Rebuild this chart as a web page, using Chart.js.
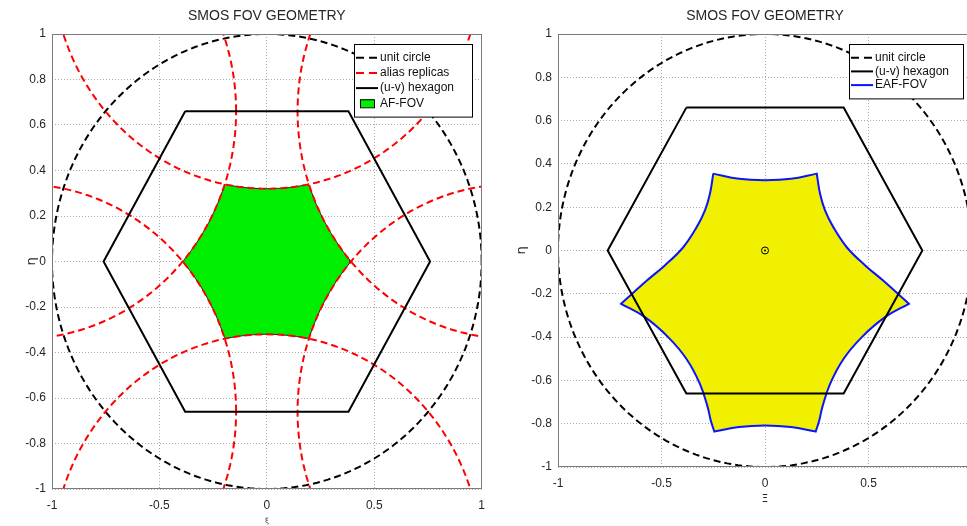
<!DOCTYPE html>
<html>
<head>
<meta charset="utf-8">
<title>SMOS FOV geometry</title>
<script src="https://cdn.jsdelivr.net/npm/chart.js@4.4.1/dist/chart.umd.min.js"></script>
<style>
    html, body { margin: 0; padding: 0; background: #fff; overflow: hidden; width: 967px; height: 526px; }
    canvas { position: absolute; top: 0; }
    #afChart { left: 0; }
    #eafChart { left: 490px; }
</style>
</head>
<body>
<canvas id="afChart" width="494" height="526"></canvas>
<canvas id="eafChart" width="500" height="526"></canvas>
<script>
// unit circle radius and the centres of its six alias replicas
const unitRadius = 1;
const replicaU = [0, 1.143, 1.143, 0, -1.143, -1.143];
const replicaV = [1.32, 0.66, -0.66, -1.32, -0.66, 0.66];

// (u-v) hexagon corners (closed)
const hexU = [-0.38, 0.38, 0.76, 0.38, -0.38, -0.76, -0.38];
const hexV = [0.66, 0.66, 0, -0.66, -0.66, 0, 0.66];

// AF-FOV corners, edge k runs along replica k
const afU = [-0.19, 0.19, 0.38, 0.19, -0.19, -0.38];
const afV = [0.33, 0.33, 0, -0.33, -0.33, 0];

// EAF-FOV outline, clockwise from the upper left cusp;
// every arc starts and ends on its own copy of the cusp so the corners stay sharp
const eafU = [-0.25, -0.125, 0, 0.125, 0.25,
    0.25, 0.266, 0.29, 0.33, 0.395, 0.484, 0.572, 0.695,
    0.695, 0.58, 0.468, 0.38, 0.315, 0.278, 0.262, 0.245,
    0.245, 0.125, 0, -0.125, -0.245,
    -0.245, -0.262, -0.278, -0.315, -0.38, -0.468, -0.58, -0.695,
    -0.695, -0.572, -0.484, -0.395, -0.33, -0.29, -0.266, -0.25];
const eafV = [0.355, 0.331, 0.325, 0.331, 0.355,
    0.355, 0.262, 0.185, 0.108, 0.015, -0.069, -0.14, -0.246,
    -0.246, -0.308, -0.40, -0.50, -0.615, -0.72, -0.785, -0.836,
    -0.836, -0.815, -0.808, -0.815, -0.836,
    -0.836, -0.785, -0.72, -0.615, -0.50, -0.40, -0.308, -0.246,
    -0.246, -0.14, -0.069, 0.015, 0.108, 0.185, 0.262, 0.355];

// boresight marker
const originU = [0];
const originV = [0];

// axis ticks
const xTickValues = [-1, -0.5, 0, 0.5, 1];
const xTickLabels = ['-1', '-0.5', '0', '0.5', '1'];
const yTickValues = [-1, -0.8, -0.6, -0.4, -0.2, 0, 0.2, 0.4, 0.6, 0.8, 1];
const yTickLabels = ['-1', '-0.8', '-0.6', '-0.4', '-0.2', '0', '0.2', '0.4', '0.6', '0.8', '1'];

Chart.defaults.font.family = '"Liberation Sans", Arial, Helvetica, sans-serif';
Chart.defaults.font.size = 12;
Chart.defaults.color = '#262626';

function zipPoints(us, vs) {
    return us.map((u, i) => ({ x: u, y: vs[i] }));
}

function circlePoints(cu, cv, r) {
    const pts = [];
    for (let i = 0; i <= 240; i++) {
        const t = i / 240 * 2 * Math.PI;
        pts.push({ x: cu + r * Math.cos(t), y: cv + r * Math.sin(t) });
    }
    return pts;
}

// short arc of circle (cu,cv,r) between two corners
function arcPoints(cu, cv, r, u0, v0, u1, v1) {
    const a0 = Math.atan2(v0 - cv, u0 - cu);
    let d = Math.atan2(v1 - cv, u1 - cu) - a0;
    if (d > Math.PI) d -= 2 * Math.PI;
    if (d < -Math.PI) d += 2 * Math.PI;
    const pts = [];
    for (let i = 0; i <= 30; i++) {
        const t = a0 + d * i / 30;
        pts.push({ x: cu + r * Math.cos(t), y: cv + r * Math.sin(t) });
    }
    return pts;
}

const replicaPoints = [];
replicaU.forEach((u, k) => {
    if (k) replicaPoints.push({ x: null, y: null });
    replicaPoints.push(...circlePoints(u, replicaV[k], unitRadius));
});

const afPoints = [];
afU.forEach((u, k) => {
    const n = (k + 1) % afU.length;
    afPoints.push(...arcPoints(replicaU[k], replicaV[k], unitRadius, u, afV[k], afU[n], afV[n]));
});

function makeScales(xHeight, yWidth) {
    const grid = { color: 'rgba(0,0,0,0.33)', lineWidth: 1, drawTicks: false };
    const border = { display: false, dash: [1, 2] };
    return {
        x: {
            type: 'linear', min: -1, max: 1,
            afterBuildTicks: s => { s.ticks = xTickValues.map(v => ({ value: v })); },
            afterFit: s => { s.height = xHeight; },
            ticks: { callback: (v, i) => xTickLabels[i], padding: 9, autoSkip: false, maxRotation: 0 },
            grid: grid, border: border
        },
        y: {
            type: 'linear', min: -1, max: 1,
            afterBuildTicks: s => { s.ticks = yTickValues.map(v => ({ value: v })); },
            afterFit: s => { s.width = yWidth; },
            ticks: { callback: (v, i) => yTickLabels[i], padding: 6, autoSkip: false },
            grid: grid, border: border
        }
    };
}

// axes box, title, axis names and the boxed legend
const decor = {
    id: 'decor',
    afterDraw(chart, args, opts) {
        const { ctx, chartArea: a } = chart;
        const cx = (a.left + a.right) / 2;
        ctx.save();
        ctx.strokeStyle = '#7a7a7a';
        ctx.lineWidth = 1;
        ctx.strokeRect(Math.round(a.left) + 0.5, Math.round(a.top) + 0.5, Math.round(a.width) - 1, Math.round(a.height) - 1);

        ctx.fillStyle = '#262626';
        ctx.textAlign = 'center';
        ctx.textBaseline = 'middle';
        ctx.font = '14px "Liberation Sans", Arial, sans-serif';
        ctx.fillText(opts.title, cx, 16);

        ctx.font = opts.xFont;
        ctx.fillText(opts.xName, cx, opts.xNameY);

        ctx.save();
        ctx.translate(32, (a.top + a.bottom) / 2);
        ctx.rotate(-Math.PI / 2);
        ctx.font = '13px "DejaVu Sans", sans-serif';
        ctx.fillText('η', 0, 0);
        ctx.restore();

        // legend
        const items = opts.items;
        const right = Math.round(a.right - 9.5);
        const left = right - opts.legendWidth;
        const top = Math.round(a.top) + 10;
        const h = 27 + opts.rowHeight * (items.length - 1);
        ctx.fillStyle = '#fff';
        ctx.fillRect(left + 0.5, top + 0.5, opts.legendWidth, h);
        ctx.strokeStyle = '#000';
        ctx.lineWidth = 1;
        ctx.strokeRect(left + 0.5, top + 0.5, opts.legendWidth, h);
        ctx.font = '12px "Liberation Sans", Arial, sans-serif';
        ctx.textAlign = 'left';
        items.forEach((item, i) => {
            const ds = chart.data.datasets.find(d => d.label === item.label);
            const y = top + 13.7 + i * opts.rowHeight;
            if (item.patch) {
                ctx.fillStyle = ds.backgroundColor;
                ctx.fillRect(left + 6, y - 4, 14, 8);
                ctx.strokeStyle = '#000';
                ctx.strokeRect(left + 6.5, y - 3.5, 14, 8);
            } else {
                ctx.strokeStyle = ds.borderColor;
                ctx.lineWidth = 2;
                ctx.setLineDash(ds.borderDash ? [8, 5] : []);
                ctx.beginPath();
                ctx.moveTo(left + 2, y);
                ctx.lineTo(left + 24, y);
                ctx.stroke();
                ctx.setLineDash([]);
                ctx.lineWidth = 1;
            }
            ctx.fillStyle = '#111';
            ctx.fillText(item.label, left + 26, y);
        });
        ctx.restore();
    }
};

const lineDefaults = { pointRadius: 0, pointHoverRadius: 0, tension: 0, spanGaps: false };

const afCtx = document.getElementById('afChart');
new Chart(afCtx, {
    type: 'line',
    data: {
        datasets: [
            { label: '(u-v) hexagon', data: zipPoints(hexU, hexV), borderColor: '#000', borderWidth: 2, order: 0 },
            { label: 'alias replicas', data: replicaPoints, borderColor: '#ff0000', borderWidth: 2, borderDash: [7, 4], order: 1 },
            { label: 'unit circle', data: circlePoints(0, 0, unitRadius), borderColor: '#000', borderWidth: 2, borderDash: [7, 4], order: 2 },
            { label: 'AF-FOV', data: afPoints, borderColor: '#222', borderWidth: 1, backgroundColor: '#00ee00', fill: 'shape', order: 3 }
        ]
    },
    options: {
        responsive: false,
        animation: false,
        events: [],
        datasets: { line: lineDefaults },
        layout: { padding: { left: 12, right: 12, top: 34, bottom: 0 } },
        scales: makeScales(37, 40),
        plugins: {
            legend: { display: false },
            tooltip: { enabled: false },
            decor: {
                title: 'SMOS FOV GEOMETRY',
                xName: 'ξ', xNameY: 521, xFont: '7px "DejaVu Sans", sans-serif',
                legendWidth: 118, rowHeight: 15.2,
                items: [
                    { label: 'unit circle' },
                    { label: 'alias replicas' },
                    { label: '(u-v) hexagon' },
                    { label: 'AF-FOV', patch: true }
                ]
            }
        }
    },
    plugins: [decor]
});

const eafCtx = document.getElementById('eafChart');
new Chart(eafCtx, {
    type: 'line',
    data: {
        datasets: [
            { label: 'origin', data: zipPoints(originU, originV), showLine: false, pointRadius: 3.5, pointBorderWidth: 1, borderColor: '#000', pointBackgroundColor: 'rgba(0,0,0,0)', order: 0 },
            { label: 'origin dot', data: zipPoints(originU, originV), showLine: false, pointRadius: 1, pointBorderWidth: 0, backgroundColor: '#000', pointBackgroundColor: '#000', order: 0 },
            { label: '(u-v) hexagon', data: zipPoints(hexU, hexV), borderColor: '#000', borderWidth: 2, order: 1 },
            { label: 'unit circle', data: circlePoints(0, 0, unitRadius), borderColor: '#000', borderWidth: 2, borderDash: [7, 4], order: 2 },
            { label: 'EAF-FOV', data: zipPoints(eafU, eafV), borderColor: '#0a14ff', borderWidth: 2, backgroundColor: '#f0f000', fill: 'shape', tension: 0.4, order: 3 }
        ]
    },
    options: {
        responsive: false,
        animation: false,
        events: [],
        datasets: { line: lineDefaults },
        layout: { padding: { left: 28, right: 18, top: 34, bottom: 22 } },
        scales: makeScales(37, 40),
        plugins: {
            legend: { display: false },
            tooltip: { enabled: false },
            decor: {
                title: 'SMOS FOV GEOMETRY',
                xName: 'Ξ', xNameY: 499, xFont: '10px "DejaVu Sans", sans-serif',
                legendWidth: 114, rowHeight: 13.7,
                items: [
                    { label: 'unit circle' },
                    { label: '(u-v) hexagon' },
                    { label: 'EAF-FOV' }
                ]
            }
        }
    },
    plugins: [decor]
});
</script>
</body>
</html>
